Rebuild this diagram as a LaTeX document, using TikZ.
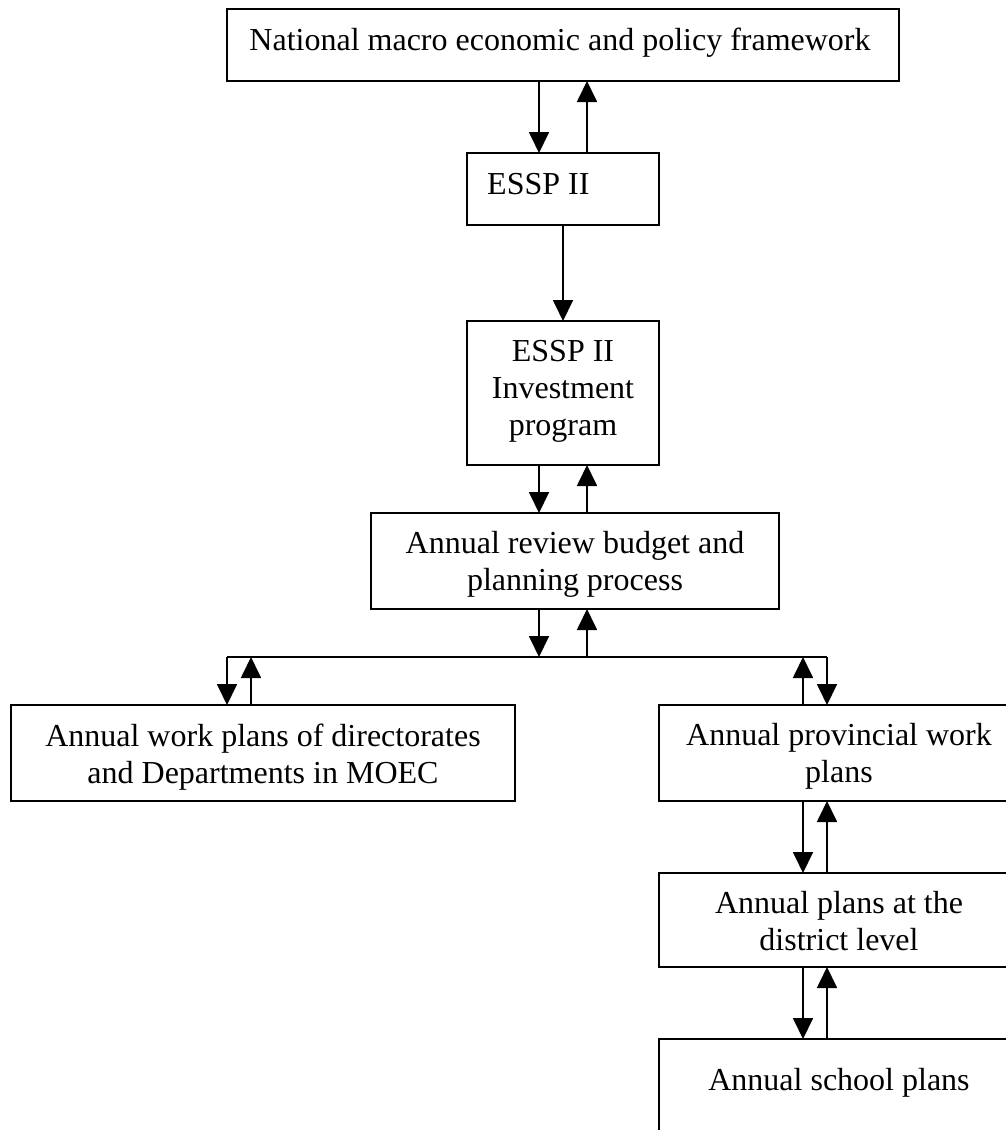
\documentclass[tikz,border=0pt]{standalone}
\usepackage{fontspec}
\setmainfont{Liberation Serif}
\usetikzlibrary{arrows.meta}
\begin{document}
\begin{tikzpicture}[x=1pt,y=-1pt,
  box/.style={draw, line width=1.8pt, anchor=north west, inner sep=0pt, outer sep=0pt},
  txt/.style={anchor=base, align=center, inner sep=0pt, font=\fontsize{32}{37}\selectfont},
  arr/.style={line width=1.8pt, -{Triangle[length=21pt,width=20pt]}},
  ln/.style={line width=1.8pt}]
\useasboundingbox (0,0) rectangle (1006,1130);
\clip (0,0) rectangle (1006,1130);
% columns
\coordinate (cA) at (539,0);
\coordinate (cB) at (587,0);
\coordinate (cC) at (563,0);
\coordinate (cL1) at (227,0);
\coordinate (cL2) at (251,0);
\coordinate (cR1) at (803,0);
\coordinate (cR2) at (827,0);
\coordinate (hl) at (0,657);
% boxes
\node[box, minimum width=672pt, minimum height=72pt] (top) at (227,9) {};
\node[box, minimum width=192pt, minimum height=72pt] (essp) at (467,153) {};
\node[box, minimum width=192pt, minimum height=144pt] (inv) at (467,321) {};
\node[box, minimum width=408pt, minimum height=96pt] (rev) at (371,513) {};
\node[box, minimum width=504pt, minimum height=96pt] (dir) at (11,705) {};
\node[box, minimum width=360pt, minimum height=96pt] (prov) at (659,705) {};
\node[box, minimum width=360pt, minimum height=94pt] (dist) at (659,873) {};
\node[box, minimum width=360pt, minimum height=120pt] (school) at (659,1039) {};
% texts (base anchor = baseline of last line)
\node[txt] (topt) at (560,50) {National macro economic and policy framework};
\node[txt, anchor=base west] (esspt) at (487,194) {ESSP II};
\node[txt] (invt) at (563,435) {ESSP II\\Investment\\program};
\node[txt] (revt) at (575,590) {Annual review budget and\\planning process};
\node[txt] (dirt) at (263,783) {Annual work plans of directorates\\and Departments in MOEC};
\node[txt] (provt) at (839,782) {Annual provincial work\\plans};
\node[txt] (distt) at (839,950) {Annual plans at the\\district level};
\node[txt] (schoolt) at (839,1090) {Annual school plans};
% connectors
\draw[arr] (top.south -| cA) -- (essp.north -| cA);
\draw[arr] (essp.north -| cB) -- (top.south -| cB);
\draw[arr] (essp.south -| cC) -- (inv.north -| cC);
\draw[arr] (inv.south -| cA) -- (rev.north -| cA);
\draw[arr] (rev.north -| cB) -- (inv.south -| cB);
\draw[arr] (rev.south -| cA) -- (hl -| cA);
\draw[arr] (hl -| cB) -- (rev.south -| cB);
\draw[ln] (hl -| cL1) -- (hl -| cR2);
\draw[arr] (hl -| cL1) -- (dir.north -| cL1);
\draw[arr] (dir.north -| cL2) -- (hl -| cL2);
\draw[arr] (prov.north -| cR1) -- (hl -| cR1);
\draw[arr] (hl -| cR2) -- (prov.north -| cR2);
\draw[arr] (prov.south -| cR1) -- (dist.north -| cR1);
\draw[arr] (dist.north -| cR2) -- (prov.south -| cR2);
\draw[arr] (dist.south -| cR1) -- (school.north -| cR1);
\draw[arr] (school.north -| cR2) -- (dist.south -| cR2);
\end{tikzpicture}
\end{document}
